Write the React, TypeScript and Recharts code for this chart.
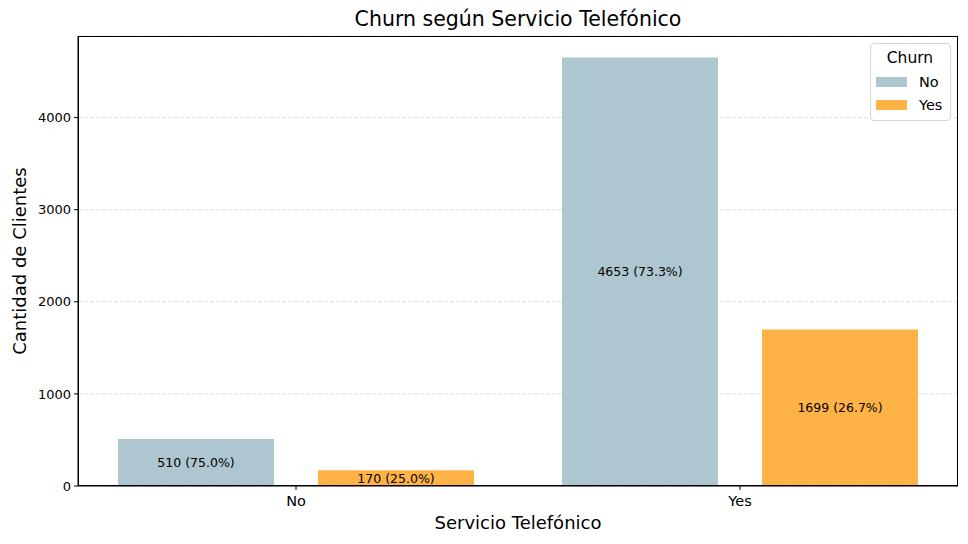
import React from "react";
import { BarChart, Bar, XAxis, YAxis, CartesianGrid, LabelList } from "recharts";

const categories = ["No", "Yes"];
const churnNo = [510, 4653];
const churnYes = [170, 1699];
const yTicks = [0, 1000, 2000, 3000, 4000];

const COLOR_NO = "#AEC6CF";
const COLOR_YES = "#FFB347";
const FONT = "'DejaVu Sans', sans-serif";

const data = categories.map((cat, i) => {
  const total = churnNo[i] + churnYes[i];
  return {
    cat,
    no: churnNo[i],
    yes: churnYes[i],
    noLabel: `${churnNo[i]} (${((churnNo[i] / total) * 100).toFixed(1)}%)`,
    yesLabel: `${churnYes[i]} (${((churnYes[i] / total) * 100).toFixed(1)}%)`,
  };
});

const yMax = Math.max(...churnNo, ...churnYes) * 1.05;

function LegendBox() {
  const items = [
    { name: "No", color: COLOR_NO },
    { name: "Yes", color: COLOR_YES },
  ];
  return (
    <div
      style={{
        position: "absolute",
        right: 17,
        top: 43,
        background: "#fff",
        border: "1px solid #d6d6d6",
        borderRadius: 4,
        padding: "4px 6px 4px 5px",
        fontFamily: FONT,
        width: 68,
      }}
    >
      <div style={{ textAlign: "center", fontSize: 15.5, lineHeight: "20px", marginBottom: 2 }}>Churn</div>
      {items.map((it) => (
        <div key={it.name} style={{ display: "flex", alignItems: "center", height: 23 }}>
          <div style={{ width: 31, height: 10, background: it.color, marginRight: 12 }} />
          <span style={{ fontSize: 14.5 }}>{it.name}</span>
        </div>
      ))}
    </div>
  );
}

export default function App() {
  return (
    <div style={{ position: "fixed", left: 0, top: 0, width: 968, height: 544, background: "#fff", fontFamily: FONT }}>
      <div style={{ position: "absolute", left: 78, width: 880, top: 7, textAlign: "center", fontSize: 20.5 }}>
        Churn según Servicio Telefónico
      </div>
      <div style={{ position: "absolute", left: 78, width: 880, top: 512, textAlign: "center", fontSize: 18 }}>
        Servicio Telefónico
      </div>
      <div
        style={{
          position: "absolute",
          left: 19,
          top: 261,
          fontSize: 18,
          whiteSpace: "nowrap",
          transform: "translate(-50%, -50%) rotate(-90deg)",
        }}
      >
        Cantidad de Clientes
      </div>
      <BarChart
        width={968}
        height={544}
        data={data}
        margin={{ top: 36, right: 10, left: 18, bottom: 28 }}
        barGap={44}
        barSize={156}
      >
        <CartesianGrid vertical={false} stroke="#dedede" strokeDasharray="4 2" />
        <XAxis
          dataKey="cat"
          height={30}
          padding={{ left: -4, right: -4 }}
          tickLine={{ stroke: "#000" }}
          axisLine={{ stroke: "#000" }}
          tickSize={4}
          tickMargin={6}
          tick={{ fill: "#000", fontSize: 14.5, fontFamily: FONT }}
        />
        <YAxis
          width={60}
          domain={[0, yMax]}
          ticks={yTicks}
          tickLine={{ stroke: "#000" }}
          axisLine={{ stroke: "#000" }}
          tickSize={4}
          tickMargin={3}
          tick={{ fill: "#000", fontSize: 13, fontFamily: FONT }}
        />
        <Bar dataKey="no" name="No" fill={COLOR_NO} isAnimationActive={false}>
          <LabelList dataKey="noLabel" position="center" fill="#000" fontSize={12.5} fontFamily={FONT} />
        </Bar>
        <Bar dataKey="yes" name="Yes" fill={COLOR_YES} isAnimationActive={false}>
          <LabelList dataKey="yesLabel" position="center" fill="#000" fontSize={12.5} fontFamily={FONT} />
        </Bar>
      </BarChart>
      <div
        style={{
          position: "absolute",
          left: 78,
          top: 36,
          width: 880,
          height: 450,
          border: "1px solid #000",
          boxSizing: "border-box",
          pointerEvents: "none",
        }}
      />
      <LegendBox />
    </div>
  );
}
